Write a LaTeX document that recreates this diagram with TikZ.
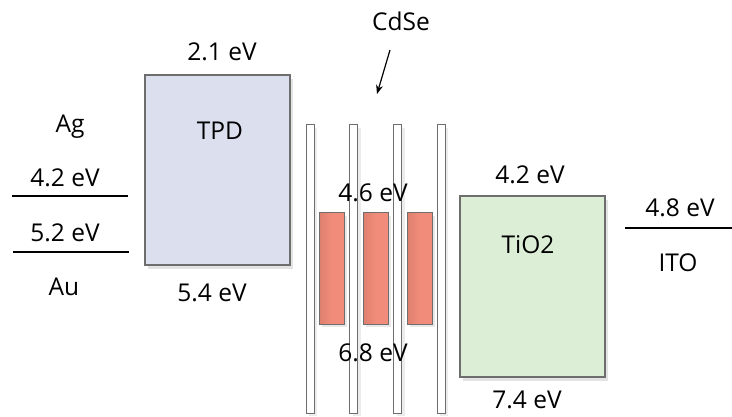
\documentclass[tikz,border=0pt]{standalone}
\usepackage{fontspec}
\setmainfont{Open Sans}
\usetikzlibrary{shadows,arrows.meta}
\definecolor{tpdfill}{HTML}{DCDFEE}
\definecolor{tiofill}{HTML}{DDEED6}
\definecolor{qdfill}{HTML}{F08C79}
\definecolor{qdleft}{HTML}{DE7F6D}
\definecolor{edge}{HTML}{6E6E6E}
\tikzset{
  lbl/.style={font=\fontsize{24.5}{26}\selectfont, inner sep=0pt},
  bandbox/.style={draw=edge, line width=1.2pt, inner sep=0pt, outer sep=0pt, anchor=north west,
    drop shadow={opacity=0.22, shadow xshift=3pt, shadow yshift=-4pt}},
  barbox/.style={draw=edge, fill=white, line width=1pt, inner sep=0pt, outer sep=0pt, anchor=north west,
    minimum width=8pt, minimum height=288pt,
    drop shadow={opacity=0.15, shadow xshift=3pt, shadow yshift=-3pt}},
  qdbox/.style={draw=edge, line width=1pt, inner sep=0pt, outer sep=0pt, anchor=north west,
    minimum width=25pt, minimum height=111pt, left color=qdleft, right color=qdfill, middle color=qdfill,
    drop shadow={opacity=0.18, shadow xshift=3pt, shadow yshift=-3pt}},
  level/.style={line width=1.1pt, black}
}
\begin{document}
\begin{tikzpicture}[x=1pt,y=-1pt]
\useasboundingbox (0,0) rectangle (732,417);
% TPD
\node[bandbox, fill=tpdfill, minimum width=145pt, minimum height=190pt] (tpd) at (145,75) {};
\node[lbl] (tpdl) at (220,131) {TPD};
\node[lbl] (tpdup) at (222,52) {2.1 eV};
\node[lbl] (tpddn) at (212,293) {5.4 eV};
% Ag / Au
\coordinate (agL) at (12,196); \coordinate (agR) at (128,196);
\coordinate (auL) at (13,252); \coordinate (auR) at (129,252);
\draw[level] (agL) -- (agR);
\draw[level] (auL) -- (auR);
\node[lbl] (ag) at (70,127) {Ag};
\node[lbl] (ag42) at (65,178) {4.2 eV};
\node[lbl] (au52) at (65,233) {5.2 eV};
\node[lbl] (au) at (64,287) {Au};
% bars
\node[barbox] (b1) at (306,125) {};
\node[barbox] (b2) at (349.5,125) {};
\node[barbox] (b3) at (393.5,125) {};
\node[barbox] (b4) at (437,125) {};
% quantum dots
\node[qdbox] (q1) at (319,213) {};
\node[qdbox] (q2) at (363,213) {};
\node[qdbox] (q3) at (407,213) {};
\node[lbl] (qd46) at (373,193) {4.6 eV};
\node[lbl] (qd68) at (373,353) {6.8 eV};
\node[lbl] (cdse) at (401,21) {CdSe};
\coordinate (a1) at (390,50);
\coordinate (a2) at (377,94);
\draw[line width=1.2pt, -{Stealth[length=9pt,width=7pt]}] (a1) -- (a2);
% TiO2
\node[bandbox, fill=tiofill, minimum width=145pt, minimum height=181pt] (tio) at (460,196) {};
\node[lbl] (tiol) at (528,245) {TiO2};
\node[lbl] (tioup) at (530,175) {4.2 eV};
\node[lbl] (tiodn) at (527,400) {7.4 eV};
% ITO
\coordinate (itoL) at (625,228); \coordinate (itoR) at (732,228);
\draw[level] (itoL) -- (itoR);
\node[lbl] (ito48) at (680,208) {4.8 eV};
\node[lbl] (ito) at (678,263) {ITO};
\end{tikzpicture}
\end{document}
